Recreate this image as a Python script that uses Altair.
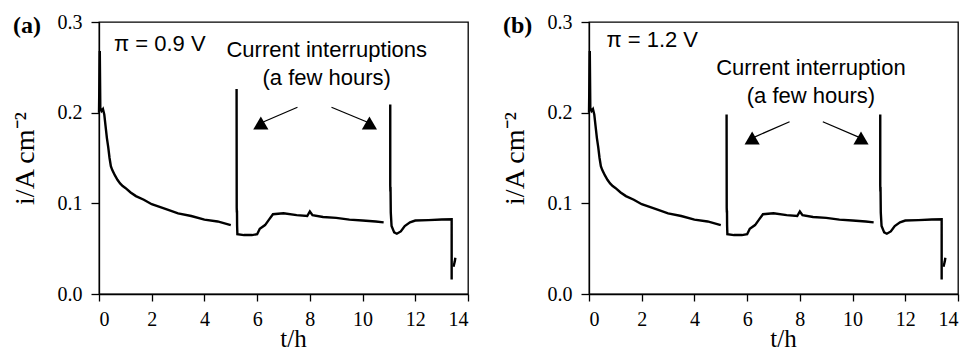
import altair as alt
import pandas as pd

# ---- data ----
seg1_t = [0.0, 0.03, 0.05, 0.1, 0.15, 0.2, 0.25, 0.3, 0.35, 0.4, 0.45, 0.5, 0.6, 0.7, 0.8, 0.9,
          1.0, 1.2, 1.4, 1.7, 2.0, 2.3, 2.6, 3.0, 3.5, 4.0, 4.5, 5.0]
seg1_i = [0.200, 0.268, 0.205, 0.202, 0.204, 0.198, 0.185, 0.172, 0.162, 0.150, 0.141, 0.137, 0.131,
          0.126, 0.122, 0.119, 0.117, 0.112, 0.108, 0.104, 0.099, 0.096, 0.093, 0.089, 0.086, 0.082,
          0.080, 0.076]

seg2_t = [5.22, 5.225, 5.23, 5.235, 5.24, 5.25, 5.5, 5.8, 6.0, 6.1, 6.3, 6.45, 6.6, 7.0, 7.5, 7.9,
          8.0, 8.1, 8.5, 9.0, 9.5, 10.0, 10.5, 10.8]
seg2_i_a = [0.226, 0.095, 0.090, 0.092, 0.075, 0.066, 0.065, 0.065, 0.066, 0.072, 0.076, 0.082, 0.088,
            0.089, 0.087, 0.086, 0.091, 0.087, 0.085, 0.084, 0.082, 0.081, 0.080, 0.079]
seg2_i_b = [0.198, 0.095, 0.090, 0.092, 0.075, 0.066, 0.065, 0.065, 0.066, 0.072, 0.076, 0.082, 0.088,
            0.089, 0.087, 0.086, 0.091, 0.087, 0.085, 0.084, 0.082, 0.081, 0.080, 0.079]

seg3_t = [11.05, 11.05, 11.055, 11.06, 11.07, 11.1, 11.2, 11.3, 11.45, 11.6, 11.8, 12.0, 12.5, 13.0,
          13.38, 13.38]
seg3_i_a = [0.209, 0.120, 0.113, 0.118, 0.090, 0.075, 0.068, 0.0665, 0.069, 0.075, 0.079, 0.081,
            0.0815, 0.0822, 0.0824, 0.016]
seg3_i_b = [0.198, 0.120, 0.113, 0.118, 0.090, 0.075, 0.068, 0.0665, 0.069, 0.075, 0.079, 0.081,
            0.0815, 0.0822, 0.0824, 0.016]

seg4_t = [13.45, 13.5, 13.52]
seg4_i = [0.030, 0.036, 0.040]

x_ticks = [0, 2, 4, 6, 8, 10, 12, 14]
y_ticks = [0.0, 0.1, 0.2, 0.3]

panel_letters = ["(a)", "(b)"]
pi_labels = ["\u03c0 = 0.9 V", "\u03c0 = 1.2 V"]
note_line1 = ["Current interruptions", "Current interruption"]
note_line2 = ["(a few hours)", "(a few hours)"]

# annotation anchor points (data units): [pi_x, pi_y, note_x, note1_y, note2_y]
ann_a = [0.57, 0.276, 8.64, 0.269, 0.238]
ann_b = [0.66, 0.280, 8.42, 0.249, 0.218]

# arrows: start x, start y, head x, head y
arrows_a = [[7.53, 0.206, 6.14, 0.1886], [8.82, 0.206, 10.26, 0.1886]]
arrows_b = [[7.61, 0.190, 6.19, 0.172], [8.87, 0.190, 10.32, 0.172]]

SERIF = "Liberation Serif"
SANS = "Liberation Sans"
W, H = 369, 272


def build_curve(i2, i3):
    rows = []
    idx = 0
    for seg, (ts, iss) in enumerate([(seg1_t, seg1_i), (seg2_t, i2), (seg3_t, i3), (seg4_t, seg4_i)]):
        for t, v in zip(ts, iss):
            rows.append({"t": t, "i": v, "seg": seg, "idx": idx})
            idx += 1
    return pd.DataFrame(rows)


def panel(i2, i3, letter, pi_lab, n1, n2, ann, arrows, title_x):
    xs = alt.Scale(domain=[0, 14], nice=False, zero=False)
    ys = alt.Scale(domain=[0, 0.3], nice=False)
    df = build_curve(i2, i3)
    line = alt.Chart(df).mark_line(color="black", strokeWidth=2.4, strokeJoin="miter").encode(
        x=alt.X("t:Q", scale=xs,
                axis=alt.Axis(title="t/h", values=x_ticks, format="d", titleX=title_x)),
        y=alt.Y("i:Q", scale=ys,
                axis=alt.Axis(title="i/A cm\u207b\u00b2", values=y_ticks, format=".1f")),
        detail="seg:N",
        order="idx:Q",
    )
    adf = pd.DataFrame([{"x": a[0], "y": a[1], "x2": a[2], "y2": a[3]} for a in arrows])
    rules = alt.Chart(adf).mark_rule(color="black", strokeWidth=1.3).encode(
        x=alt.X("x:Q", scale=xs), y=alt.Y("y:Q", scale=ys), x2="x2:Q", y2="y2:Q")
    heads = alt.Chart(adf).mark_point(shape="triangle-up", filled=True, color="black",
                                      size=230, opacity=1).encode(
        x=alt.X("x2:Q", scale=xs), y=alt.Y("y2:Q", scale=ys))
    tdf = pd.DataFrame([
        {"x": ann[0], "y": ann[1], "txt": pi_lab},
    ])
    ndf = pd.DataFrame([
        {"x": ann[2], "y": ann[3], "txt": n1},
        {"x": ann[2], "y": ann[4], "txt": n2},
    ])
    pi_text = alt.Chart(tdf).mark_text(font=SANS, fontSize=22, align="left", baseline="middle",
                                       color="black").encode(
        x=alt.X("x:Q", scale=xs), y=alt.Y("y:Q", scale=ys), text="txt:N")
    notes = alt.Chart(ndf).mark_text(font=SANS, fontSize=22, align="center", baseline="middle",
                                     color="black").encode(
        x=alt.X("x:Q", scale=xs), y=alt.Y("y:Q", scale=ys), text="txt:N")
    lab = alt.Chart(pd.DataFrame({"txt": [letter]})).mark_text(
        font=SERIF, fontSize=24, fontWeight="bold", align="left", baseline="alphabetic",
        color="black").encode(x=alt.value(-86), y=alt.value(11), text="txt:N")
    return alt.layer(line, rules, heads, pi_text, notes, lab).properties(width=W, height=H)


pa = panel(seg2_i_a, seg3_i_a, panel_letters[0], pi_labels[0], note_line1[0], note_line2[0],
           ann_a, arrows_a, 194)
pb = panel(seg2_i_b, seg3_i_b, panel_letters[1], pi_labels[1], note_line1[1], note_line2[1],
           ann_b, arrows_b, 194)

chart = alt.hconcat(pa, pb, spacing=30).properties(
    padding={"left": 2, "top": 3, "right": 0, "bottom": 0},
    background="white",
).configure_view(stroke="black", strokeWidth=1.3).configure_axis(
    grid=False, domainColor="black", domainWidth=1.3, tickColor="black", tickWidth=1.3,
    labelFont=SERIF, labelFontSize=20, labelColor="black",
    titleFont=SERIF, titleFontWeight="normal", titleColor="black",
).configure_axisY(titlePadding=18, tickSize=8, labelPadding=9, titleFontSize=28
).configure_axisX(titlePadding=-3, tickSize=7, labelPadding=8, titleFontSize=25)

chart.save("out.html", embed_options={"renderer": "svg", "actions": False})
